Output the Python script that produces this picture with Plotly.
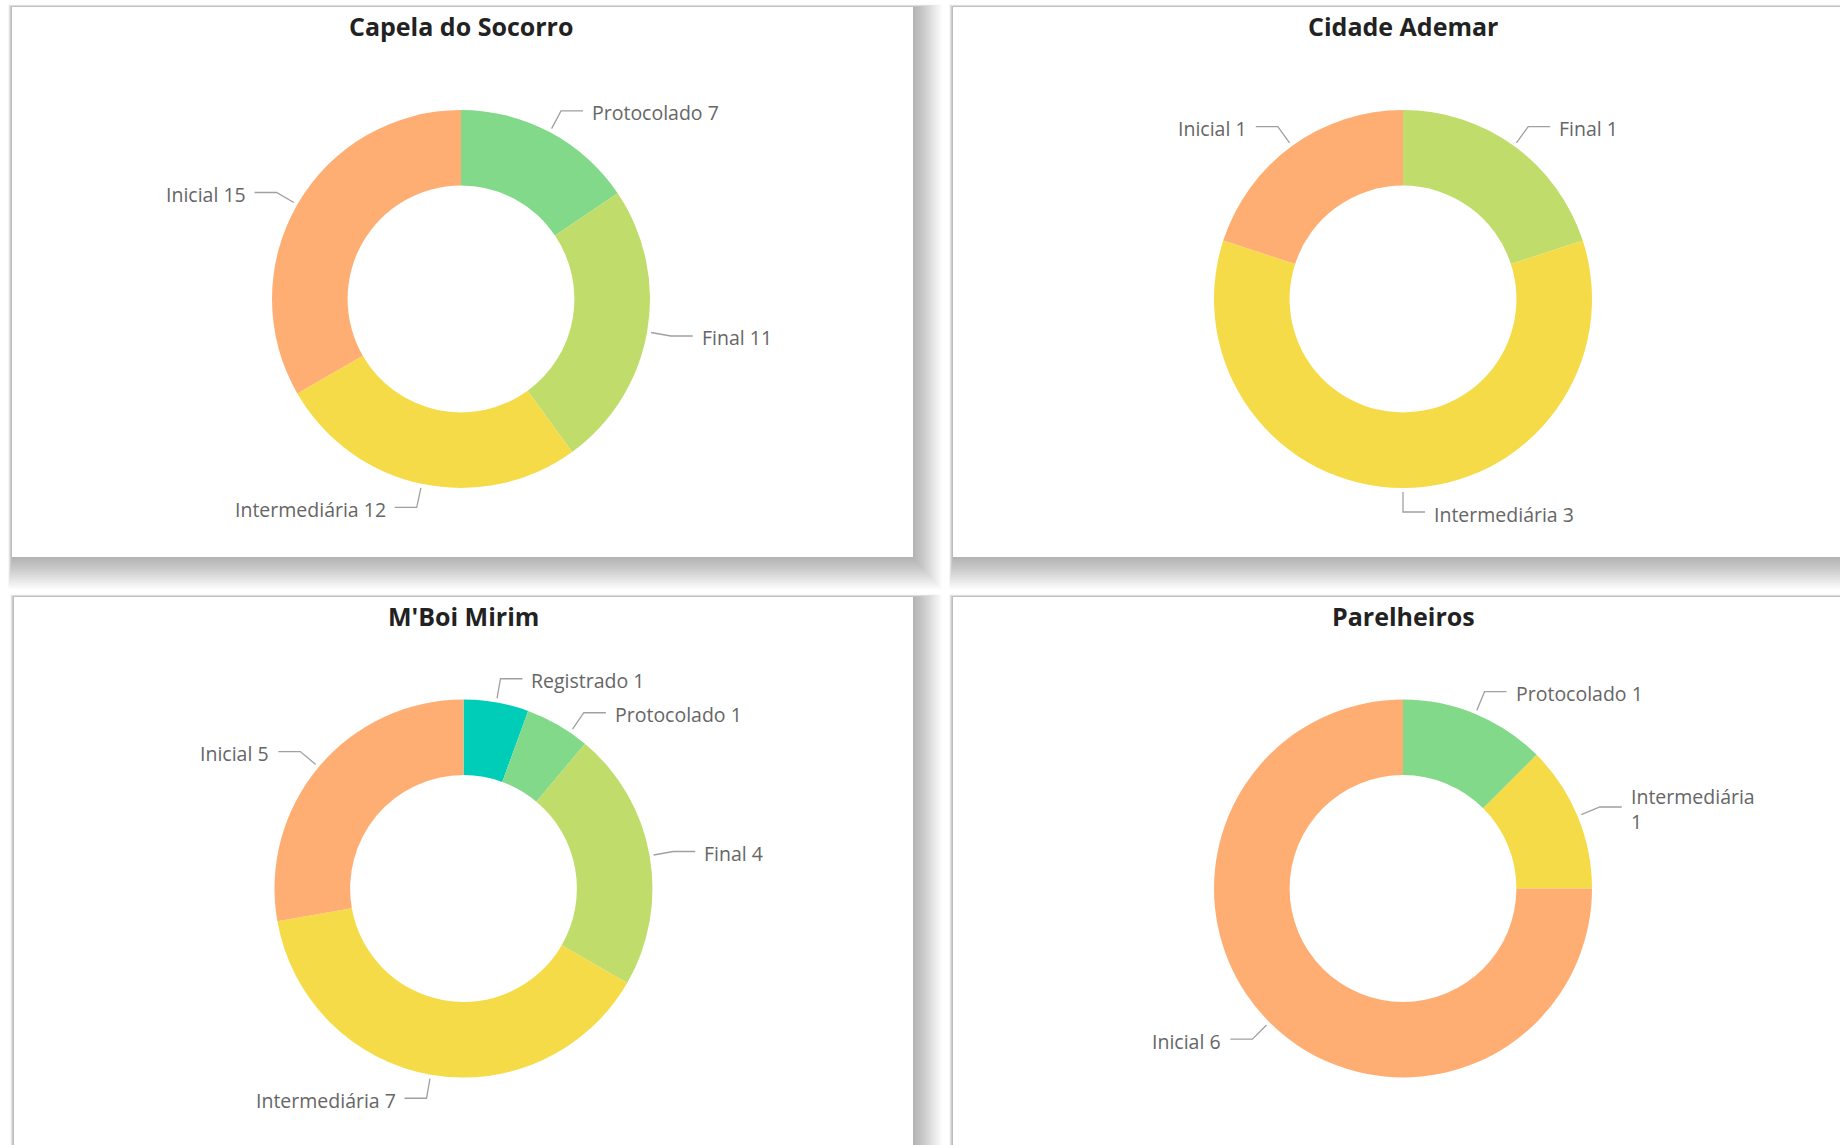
import math
import plotly.graph_objects as go

# ---------------- data ----------------
titles = ["Capela do Socorro", "Cidade Ademar", "M'Boi Mirim", "Parelheiros"]

capela_labels = ["Protocolado", "Final", "Intermediária", "Inicial"]
capela_values = [7, 11, 12, 15]

ademar_labels = ["Final", "Intermediária", "Inicial"]
ademar_values = [1, 3, 1]

mboi_labels = ["Registrado", "Protocolado", "Final", "Intermediária", "Inicial"]
mboi_values = [1, 1, 4, 7, 5]

parelheiros_labels = ["Protocolado", "Intermediária", "Inicial"]
parelheiros_values = [1, 1, 6]

stage_colors = {
    "Registrado": "#00cdb8",
    "Protocolado": "#83d98a",
    "Final": "#c0dc6a",
    "Intermediária": "#f6db48",
    "Inicial": "#ffae73",
}

# ---------------- layout constants (pixels) ----------------
W, H = 1840, 1145
R = 189
HOLE = 0.6
panels = [(12, 7, 913, 557), (953, 7, 1860, 557), (14, 597, 913, 1165), (953, 597, 1860, 1165)]
centers = [(461, 299), (1403, 299), (463.5, 888.5), (1403, 888.5)]
title_y = [26, 26, 616, 616]
FONT = "Open Sans"
LABEL_SIZE = 19.5
CHAR_W = 0.55 * LABEL_SIZE

series = [
    (capela_labels, capela_values),
    (ademar_labels, ademar_values),
    (mboi_labels, mboi_values),
    (parelheiros_labels, parelheiros_values),
]

px = lambda x: x / W
py = lambda y: 1 - y / H

fig = go.Figure()
shapes = []
annotations = []

# panel shadows + panels
for (x0, y0, x1, y1) in panels:
    for s in range(2, 34, 2):
        shapes.append(dict(type="rect", xref="paper", yref="paper", layer="below",
                           x0=px(x0 - s * 0.12), x1=px(x1 + s * 0.9),
                           y0=py(y1 + s), y1=py(y0 - s * 0.08),
                           fillcolor="rgba(0,0,0,0.018)", line=dict(width=0)))
for (x0, y0, x1, y1) in panels:
    shapes.append(dict(type="rect", xref="paper", yref="paper", layer="below",
                       x0=px(x0), x1=px(x1), y0=py(y1), y1=py(y0),
                       fillcolor="white", line=dict(width=0)))

for i, (labels, values) in enumerate(series):
    cx, cy = centers[i]
    fig.add_trace(go.Pie(
        labels=labels, values=values, hole=HOLE, sort=False,
        direction="clockwise", rotation=0, textinfo="none",
        hoverinfo="label+value",
        marker=dict(colors=[stage_colors[l] for l in labels], line=dict(width=0)),
        domain=dict(x=[px(cx - R), px(cx + R)], y=[py(cy + R), py(cy - R)]),
        showlegend=False,
    ))
    annotations.append(dict(text="<b>" + titles[i] + "</b>", x=px(cx), y=py(title_y[i]),
                            xref="paper", yref="paper", showarrow=False,
                            xanchor="center", yanchor="middle",
                            font=dict(family=FONT, size=25, color="#222")))

    # outside labels with leader lines (computed from the slice angles)
    total = sum(values)
    r1, r2 = R + 4, R + 24
    cum = 0
    items = []
    for lab, v in zip(labels, values):
        mid = (cum + v / 2) / total * 2 * math.pi
        cum += v
        sx, sy = math.sin(mid), -math.cos(mid)
        side = 1 if sx > -1e-9 else -1
        items.append(dict(label=lab, value=v, side=side, y2=cy + r2 * sy))
    MIN_GAP = 34
    for side in (1, -1):
        grp = sorted([it for it in items if it["side"] == side], key=lambda d: d["y2"])
        for k in range(1, len(grp)):
            if grp[k]["y2"] - grp[k - 1]["y2"] < MIN_GAP:
                grp[k]["y2"] = grp[k - 1]["y2"] + MIN_GAP
    right_limit = panels[i][2] - 90 if panels[i][2] > W else panels[i][2] - 20
    for it in items:
        side = it["side"]
        y2 = it["y2"]
        dy = y2 - cy
        dx = math.sqrt(max(r2 ** 2 - dy ** 2, 0))
        x2 = cx + side * dx
        ang_r = math.hypot(x2 - cx, dy)
        x1 = cx + (x2 - cx) * r1 / ang_r
        y1 = cy + dy * r1 / ang_r
        x3 = x2 + side * 22
        shapes.append(dict(type="path", xref="paper", yref="paper",
                           path=f"M {px(x1)},{py(y1)} L {px(x2)},{py(y2)} L {px(x3)},{py(y2)}",
                           line=dict(color="#a0a0a0", width=1.3)))
        text = f"{it['label']} {it['value']}"
        tx = x3 + side * 7
        if side == 1 and tx + len(text) * CHAR_W > right_limit:
            text = f"{it['label']}<br>{it['value']}"
        annotations.append(dict(text=text, x=px(tx), y=py(y2), xref="paper", yref="paper",
                                showarrow=False, xanchor="left" if side == 1 else "right",
                                yanchor="middle", yshift=-2, align="left",
                                font=dict(family=FONT, size=LABEL_SIZE, color="#666")))

fig.update_layout(
    width=W, height=H, autosize=False,
    margin=dict(l=0, r=0, t=0, b=0),
    paper_bgcolor="white", plot_bgcolor="white",
    shapes=shapes, annotations=annotations,
    font=dict(family=FONT),
)

fig.write_html("out.html", config={"displayModeBar": False},
               post_script="document.body.style.margin='0';document.body.style.overflow='hidden';")
